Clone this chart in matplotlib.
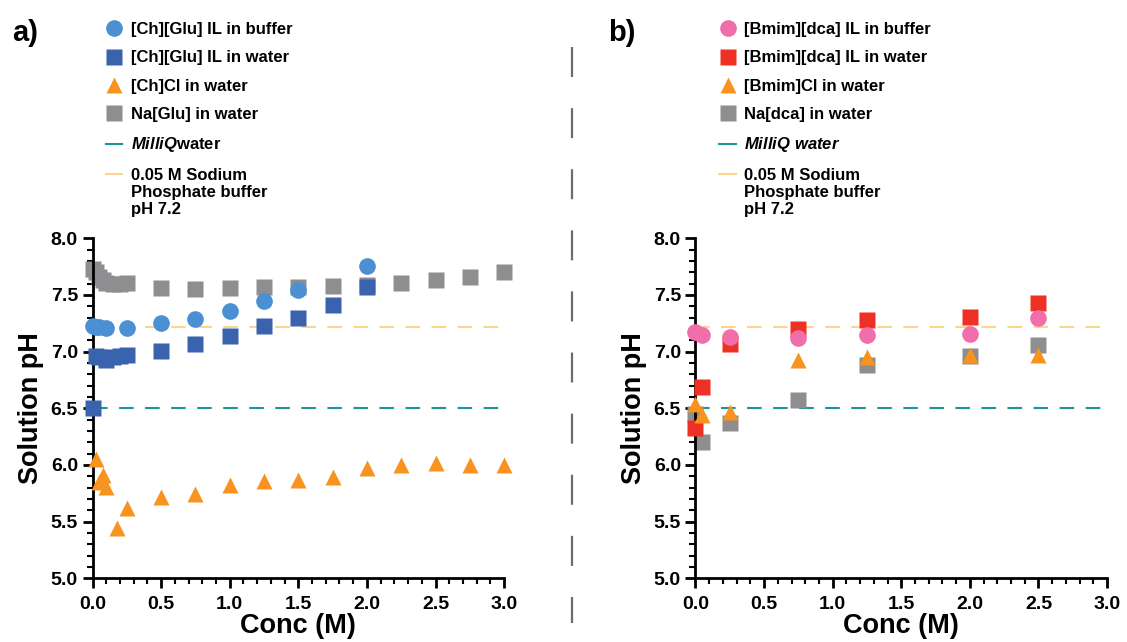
import matplotlib
matplotlib.use("Agg")
import matplotlib.pyplot as plt
from matplotlib.lines import Line2D
from matplotlib.ticker import MultipleLocator, FormatStrFormatter

plt.rcParams['font.family'] = ['Liberation Sans', 'DejaVu Sans']
plt.rcParams['font.weight'] = 'bold'
plt.rcParams['mathtext.fontset'] = 'custom'
plt.rcParams['mathtext.it'] = 'Liberation Sans:italic:bold'
plt.rcParams['mathtext.rm'] = 'Liberation Sans:bold'

# ---- panel a) choline glutamate ----
ch_buf_x = [0.0, 0.025, 0.05, 0.1, 0.25, 0.5, 0.75, 1.0, 1.25, 1.5, 2.0]
ch_buf_y = [7.23, 7.22, 7.22, 7.21, 7.21, 7.25, 7.29, 7.36, 7.45, 7.54, 7.76]

ch_wat_x = [0.0, 0.025, 0.05, 0.1, 0.15, 0.2, 0.25, 0.5, 0.75, 1.0, 1.25, 1.5, 1.75, 2.0]
ch_wat_y = [6.5, 6.96, 6.95, 6.93, 6.95, 6.96, 6.97, 7.01, 7.07, 7.14, 7.23, 7.30, 7.41, 7.57]

chcl_x = [0.025, 0.05, 0.075, 0.1, 0.175, 0.25, 0.5, 0.75, 1.0, 1.25, 1.5, 1.75, 2.0, 2.25, 2.5, 2.75, 3.0]
chcl_y = [6.05, 5.85, 5.91, 5.81, 5.44, 5.62, 5.72, 5.74, 5.82, 5.86, 5.87, 5.89, 5.97, 6.0, 6.02, 6.0, 6.0]

naglu_x = [0.0, 0.025, 0.05, 0.075, 0.1, 0.15, 0.2, 0.25, 0.5, 0.75, 1.0, 1.25, 1.5, 1.75, 2.0, 2.25, 2.5, 2.75, 3.0]
naglu_y = [7.73, 7.70, 7.66, 7.63, 7.61, 7.60, 7.60, 7.61, 7.56, 7.55, 7.56, 7.57, 7.57, 7.58, 7.59, 7.61, 7.63, 7.66, 7.70]

# ---- panel b) bmim dca ----
bm_x = [0.0, 0.05, 0.25, 0.75, 1.25, 2.0, 2.5]
bm_buf_y = [7.17, 7.15, 7.13, 7.12, 7.15, 7.16, 7.30]
bm_wat_y = [6.33, 6.69, 7.07, 7.20, 7.28, 7.31, 7.43]
bmcl_y = [6.54, 6.44, 6.47, 6.93, 6.95, 6.97, 6.97]
nadca_y = [6.45, 6.20, 6.37, 6.57, 6.88, 6.96, 7.06]

milliq_ph = 6.5
buffer_ph = 7.22
buffer_first = "0.05 M Sodium"
buffer_rest = "Phosphate buffer\npH 7.2"

c_lblue = '#4a90d2'
c_dblue = '#3a63ae'
c_orange = '#f7931e'
c_gray = '#8e8e91'
c_pink = '#f06eaa'
c_red = '#ee3124'
c_teal = '#1a9696'
c_yellow = '#fdd58a'

fig = plt.figure(figsize=(11.27, 6.42), dpi=100)
ax1 = fig.add_axes([0.0821, 0.0992, 0.3652, 0.5296])
ax2 = fig.add_axes([0.6171, 0.0992, 0.3652, 0.5296])

dash = (7, 5.5)


def style_axis(ax):
    ax.set_xlim(0, 3.0)
    ax.set_ylim(5.0, 8.0)
    for s in ['top', 'right']:
        ax.spines[s].set_visible(False)
    for s in ['left', 'bottom']:
        ax.spines[s].set_linewidth(2)
    ax.xaxis.set_major_locator(MultipleLocator(0.5))
    ax.xaxis.set_minor_locator(MultipleLocator(0.1))
    ax.yaxis.set_major_locator(MultipleLocator(0.5))
    ax.yaxis.set_minor_locator(MultipleLocator(0.1))
    ax.tick_params(which='major', length=7, width=2, labelsize=14)
    ax.tick_params(axis='x', which='major', pad=6)
    ax.tick_params(which='minor', length=4, width=1.5)
    ax.xaxis.set_major_formatter(FormatStrFormatter('%.1f'))
    ax.yaxis.set_major_formatter(FormatStrFormatter('%.1f'))
    for lab in ax.get_xticklabels() + ax.get_yticklabels():
        lab.set_fontweight('bold')
    ax.set_xlabel('Conc (M)', fontsize=19.5, fontweight='bold', labelpad=0)
    ax.set_ylabel('Solution pH', fontsize=19.5, fontweight='bold', labelpad=5)
    ax.patch.set_alpha(0)


# panel a
ax1.axhline(milliq_ph, color=c_teal, lw=1.5, dashes=dash, zorder=1)
ax1.axhline(buffer_ph, color=c_yellow, lw=1.5, dashes=dash, zorder=1)
ax1.plot(naglu_x, naglu_y, 's', color=c_gray, ms=11, mec='none', zorder=2, clip_on=False)
ax1.plot(ch_wat_x, ch_wat_y, 's', color=c_dblue, ms=11, mec='none', zorder=3, clip_on=False)
ax1.plot(ch_buf_x, ch_buf_y, 'o', color=c_lblue, ms=12, mec='none', zorder=4, clip_on=False)
ax1.plot(chcl_x, chcl_y, '^', color=c_orange, ms=12, mec='none', zorder=5, clip_on=False)
style_axis(ax1)

# panel b
ax2.axhline(milliq_ph, color=c_teal, lw=1.5, dashes=dash, zorder=1)
ax2.axhline(buffer_ph, color=c_yellow, lw=1.5, dashes=dash, zorder=1)
ax2.plot(bm_x, nadca_y, 's', color=c_gray, ms=11, mec='none', zorder=2, clip_on=False)
ax2.plot(bm_x, bm_wat_y, 's', color=c_red, ms=11, mec='none', zorder=3, clip_on=False)
ax2.plot(bm_x, bmcl_y, '^', color=c_orange, ms=12, mec='none', zorder=4, clip_on=False)
ax2.plot(bm_x, bm_buf_y, 'o', color=c_pink, ms=12, mec='none', zorder=5, clip_on=False)
style_axis(ax2)


def make_legend(x0, labels, colors, markers):
    handles = []
    for c, m in zip(colors, markers):
        handles.append(Line2D([], [], ls='none', marker=m, color=c, mec='none', ms=12))
    handles.append(Line2D([], [], color=c_teal, lw=1.5))
    handles.append(Line2D([], [], color=c_yellow, lw=1.5))
    leg = fig.legend(handles, labels, loc='upper left', bbox_to_anchor=(x0, 1 - 22 / 642),
                     frameon=False, handlelength=1.0, handletextpad=0.5,
                     labelspacing=0.8, borderpad=0, borderaxespad=0,
                     prop={'weight': 'bold', 'size': 12})
    return leg


leg1 = make_legend((114 - 8.3) / 1127,
                   ['[Ch][Glu] IL in buffer', '[Ch][Glu] IL in water', '[Ch]Cl in water',
                    'Na[Glu] in water', r'$\mathit{MilliQ}$water', buffer_first],
                   [c_lblue, c_dblue, c_orange, c_gray], ['o', 's', '^', 's'])
leg2 = make_legend((727.5 - 8.3) / 1127,
                   ['[Bmim][dca] IL in buffer', '[Bmim][dca] IL in water', '[Bmim]Cl in water',
                    'Na[dca] in water', r'$\mathit{MilliQ\ water}$', buffer_first],
                   [c_pink, c_red, c_orange, c_gray], ['o', 's', '^', 's'])

# the buffer label wraps onto more lines below its first line
fig.canvas.draw()
for leg in [leg1, leg2]:
    bb = leg.get_texts()[-1].get_window_extent()
    fig.text(bb.x0 / fig.bbox.width, (bb.y0 - 2) / fig.bbox.height, buffer_rest,
             fontsize=12, fontweight='bold', va='top', ha='left', linespacing=1.2)

# panel letters
fig.text(12 / 1127, 1 - 33 / 642, 'a)', fontsize=21, fontweight='bold', va='center')
fig.text(608 / 1127, 1 - 33 / 642, 'b)', fontsize=21, fontweight='bold', va='center')

# dashed divider between panels
fig.add_artist(Line2D([572 / 1127, 572 / 1127], [1 - 47 / 642, 1 - 623 / 642],
                      transform=fig.transFigure, color='#6d6d6f', lw=1.6, dashes=(13.5, 14)))

fig.savefig('out.png', dpi=100)
